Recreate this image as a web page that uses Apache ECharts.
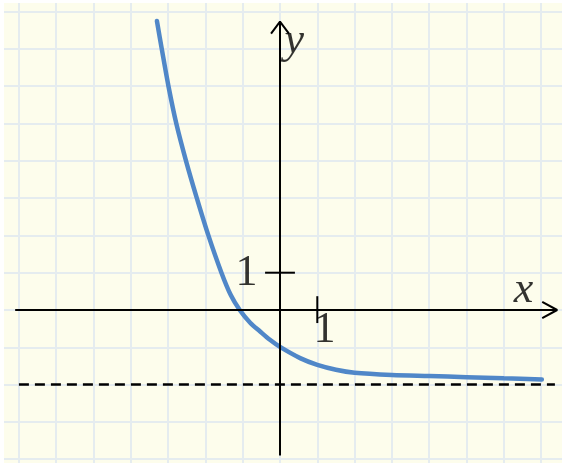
<!DOCTYPE html>
<html>
<head>
<meta charset="utf-8">
<script src="https://cdn.jsdelivr.net/npm/echarts@6/dist/echarts.min.js"></script>
<style>
	html, body { margin: 0; padding: 0; background: #ffffff; }
	#chart { position: absolute; left: 4px; top: 3px; width: 558px; height: 460px; }
</style>
</head>
<body>
<div id="chart"></div>
<script>
// curve (one grid square = 1 unit)
const curveX = [-3.30, -3.17, -2.99, -2.78, -2.52, -2.23, -1.92, -1.57, -1.32, -1.08, -0.80, -0.54, -0.27, 0, 0.54, 1.0, 1.5, 2.0, 3.0, 4.0, 5.0, 6.0, 7.02];
const curveY = [7.75, 7.0, 6.0, 5.0, 4.0, 3.0, 2.0, 1.0, 0.40, 0.0, -0.34, -0.57, -0.80, -0.99, -1.29, -1.47, -1.60, -1.68, -1.74, -1.77, -1.80, -1.83, -1.86];

// horizontal asymptote
const asymptoteY = -2;
const asymptoteFrom = -7.0;
const asymptoteTo = 7.37;

// axis extents
const xAxisFrom = -7.1;
const xAxisTo = 7.43;
const yAxisFrom = -3.9;
const yAxisTo = 7.73;

// unit tick marks and their labels
const unitTick = 1;
const tickLabels = ['1', '1'];
const axisNames = ['x', 'y'];

// Initialize the echarts instance based on the prepared dom
var myChart = echarts.init(document.getElementById('chart'));

var axisStyle = { color: '#000000', width: 2 };

function lineSeries(data, style, z) {
	return {
		type: 'line',
		data: data,
		symbol: 'none',
		silent: true,
		animation: false,
		lineStyle: style,
		itemStyle: { color: style.color },
		z: z,
	};
}

function textSeries(data, italic) {
	return {
		type: 'scatter',
		data: data,
		symbolSize: 0,
		silent: true,
		animation: false,
		z: 10,
		label: {
			show: true,
			position: 'inside',
			formatter: function (p) { return p.data.name; },
			fontFamily: 'Liberation Serif',
			fontStyle: italic ? 'italic' : 'normal',
			fontSize: 44,
			color: '#000000',
		},
	};
}

var curve = curveX.map(function (x, i) { return [x, curveY[i]]; });

option = {
	backgroundColor: '#fdfdec',
	grid: {
		left: -22.4,
		right: -16.4,
		top: -28.7,
		bottom: -33.5,
		outerBoundsMode: 'none',
		containLabel: false,
	},
	xAxis: {
		type: 'value',
		min: -8,
		max: 8,
		interval: 1,
		axisLine: { show: false },
		axisTick: { show: false },
		axisLabel: { show: false },
		splitLine: { show: true, lineStyle: { color: '#e5ecef', width: 2 } },
	},
	yAxis: {
		type: 'value',
		min: -5,
		max: 9,
		interval: 1,
		axisLine: { show: false },
		axisTick: { show: false },
		axisLabel: { show: false },
		splitLine: { show: true, lineStyle: { color: '#e5ecef', width: 2 } },
	},
	series: [
		lineSeries([[asymptoteFrom, asymptoteY], [asymptoteTo, asymptoteY]],
			{ color: '#000000', width: 2.5, type: [10, 6] }, 2),
		Object.assign(lineSeries(curve, { color: '#5087c8', width: 4.5, cap: 'round' }, 3), {
			smooth: 0.3,
		}),
		// axes
		lineSeries([[xAxisFrom, 0], [xAxisTo, 0]], axisStyle, 4),
		lineSeries([[0, yAxisFrom], [0, yAxisTo]], axisStyle, 4),
		// open arrow heads
		lineSeries([[xAxisTo - 0.4, 0.22], [xAxisTo, 0], [xAxisTo - 0.4, -0.22]], axisStyle, 4),
		lineSeries([[-0.24, yAxisTo - 0.32], [0, yAxisTo], [0.24, yAxisTo - 0.32]], axisStyle, 4),
		// unit ticks
		lineSeries([[-0.4, unitTick], [0.4, unitTick]], axisStyle, 4),
		lineSeries([[unitTick, -0.35], [unitTick, 0.37]], axisStyle, 4),
		textSeries([
			{ name: tickLabels[0], value: [-0.9, 0.99] },
			{ name: tickLabels[1], value: [1.19, -0.54] },
		], false),
		textSeries([
			{ name: axisNames[0], value: [6.53, 0.52] },
			{ name: axisNames[1], value: [0.38, 7.2] },
		], true),
	],
};

// Display the chart using the configuration items and data just specified.
myChart.setOption(option);
</script>
</body>
</html>
